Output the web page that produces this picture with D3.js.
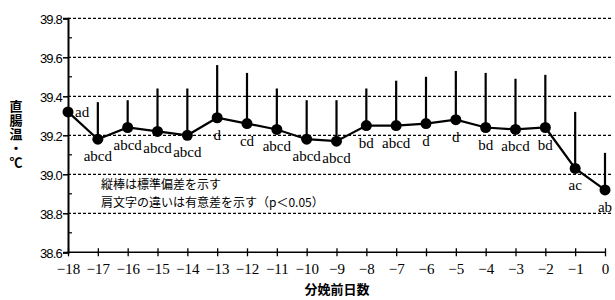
<!DOCTYPE html>
<html><head><meta charset="utf-8">
<script src="https://cdn.jsdelivr.net/npm/d3@7"></script>
<style>body{margin:0;background:#fff}svg{display:block}</style>
</head><body>
<svg id="c" width="615" height="300"></svg>
<script>
const days = [-18,-17,-16,-15,-14,-13,-12,-11,-10,-9,-8,-7,-6,-5,-4,-3,-2,-1,0];
const meanTemp = [39.32,39.18,39.24,39.22,39.20,39.29,39.26,39.23,39.18,39.17,39.25,39.25,39.26,39.28,39.24,39.23,39.24,39.03,38.92];
const sdTop = [null,39.37,39.38,39.44,39.44,39.56,39.52,39.44,39.38,39.38,39.44,39.48,39.50,39.53,39.52,39.49,39.51,39.32,39.11];
const sigLabels = ["ad","abcd","abcd","abcd","abcd","d","cd","abcd","abcd","abcd","bd","abcd","d","d","bd","abcd","bd","ac","ab"];
const yTicks = [38.6,38.8,39.0,39.2,39.4,39.6,39.8];
const yMinor = [38.7,38.9,39.1,39.3,39.5,39.7];
const yTitle = "直腸温・℃";
const xTitle = "分娩前日数";
const notes = ["縦棒は標準偏差を示す","肩文字の違いは有意差を示す（p＜0.05）"];

const svg = d3.select("#c");
const x = d3.scaleLinear().domain([-18,0]).range([68,605]);
const y = d3.scaleLinear().domain([38.6,39.8]).range([252.3,18.3]);
const right = 612;

// grid
svg.append("g").selectAll("line").data(yTicks.filter(v=>v>38.6)).join("line")
  .attr("x1",x(-18)).attr("x2",right).attr("y1",d=>y(d)).attr("y2",d=>y(d))
  .attr("stroke","#000").attr("stroke-width",1.2).attr("stroke-dasharray","3,2");

// y axis
const yAxis = d3.axisLeft(y).tickValues(yTicks).tickSize(5).tickFormat(d3.format(".1f"));
const gy = svg.append("g").attr("transform",`translate(${x(-18)},0)`).call(yAxis);
gy.select(".domain").attr("stroke-width",2);
gy.selectAll(".tick line").attr("stroke-width",1.5);
gy.selectAll(".tick text").attr("font-family","Liberation Sans, Arial, sans-serif")
  .attr("font-size",13).attr("letter-spacing","-0.8").attr("fill","#000").attr("x",-6).attr("dy","0.4em");
svg.append("g").selectAll("line").data(yMinor).join("line")
  .attr("x1",x(-18)).attr("x2",x(-18)+4).attr("y1",d=>y(d)).attr("y2",d=>y(d))
  .attr("stroke","#000").attr("stroke-width",1.2);

// x axis
const xAxis = d3.axisBottom(x).tickValues(days).tickSize(4)
  .tickFormat(d => d===0 ? "0" : "−" + Math.abs(d));
const gx = svg.append("g").attr("transform",`translate(0,${y(38.6)})`).call(xAxis);
gx.select(".domain").attr("stroke-width",1.5).attr("d",`M${x(-18)},0H${x(0)}`);
gx.selectAll(".tick line").attr("y1",-4).attr("y2",4).attr("stroke-width",1.3);
gx.selectAll(".tick text").attr("font-family","Liberation Serif, Times New Roman, serif")
  .attr("font-size",15).attr("fill","#000").attr("y",11).attr("dy","0.71em");

// error bars
const pts = days.map((d,i)=>({d, m:meanTemp[i], s:sdTop[i], lab:sigLabels[i]}));
svg.append("g").selectAll("line").data(pts.filter(p=>p.s!==null)).join("line")
  .attr("x1",p=>x(p.d)).attr("x2",p=>x(p.d)).attr("y1",p=>y(p.m)).attr("y2",p=>y(p.s))
  .attr("stroke","#000").attr("stroke-width",2.2);

// line
svg.append("path").datum(pts)
  .attr("d", d3.line().x(p=>x(p.d)).y(p=>y(p.m)))
  .attr("fill","none").attr("stroke","#000").attr("stroke-width",2.2);
svg.append("g").selectAll("circle").data(pts).join("circle")
  .attr("cx",p=>x(p.d)).attr("cy",p=>y(p.m)).attr("r",5.5).attr("fill","#000");

// significance labels
svg.append("g").selectAll("text").data(pts).join("text")
  .attr("x",(p,i)=> i===0 ? x(p.d)+7 : x(p.d))
  .attr("y",(p,i)=> i===0 ? y(p.m)+5 : y(p.m)+22)
  .attr("text-anchor",(p,i)=> i===0 ? "start" : "middle")
  .attr("font-family","Liberation Serif, Times New Roman, serif").attr("font-size",15)
  .attr("fill","#000").text(p=>p.lab);

// notes
svg.append("g").selectAll("text").data(notes).join("text")
  .attr("x",101).attr("y",(d,i)=>189+i*18)
  .attr("font-family","Noto Sans CJK JP, sans-serif").attr("font-size",12)
  .attr("fill","#000").text(d=>d);

// y title (vertical)
svg.append("text").attr("x",16).attr("y",100)
  .style("writing-mode","vertical-rl").attr("letter-spacing","1")
  .attr("font-family","Noto Sans CJK JP, sans-serif").attr("font-size",13).attr("font-weight","bold")
  .attr("fill","#000").text(yTitle);

// x title
svg.append("text").attr("x",337).attr("y",294).attr("text-anchor","middle")
  .attr("font-family","Noto Sans CJK JP, sans-serif").attr("font-size",13).attr("font-weight","bold")
  .attr("fill","#000").text(xTitle);
</script>
</body></html>
